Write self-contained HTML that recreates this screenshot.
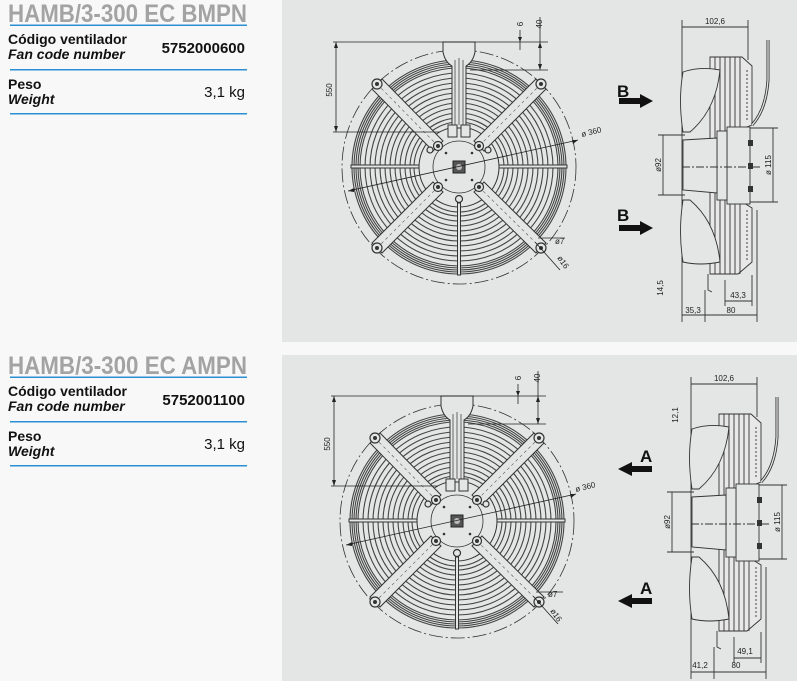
<!DOCTYPE html>
<html><head><meta charset="utf-8"><style>
html,body{margin:0;padding:0;background:#f8f8f8;}
svg{display:block;font-family:"Liberation Sans",sans-serif;}
</style></head><body>
<svg width="797" height="681" viewBox="0 0 797 681" xmlns="http://www.w3.org/2000/svg">
<defs>
<g id="front">
  <circle cx="459" cy="167" r="117" fill="none" stroke="#333" stroke-width="0.8" stroke-dasharray="14,3,2,3"/>
  <g fill="none" stroke="#444" stroke-width="1.1">
    <circle cx="459" cy="167" r="107"/><circle cx="459" cy="167" r="105"/><circle cx="459" cy="167" r="103"/>
    <circle cx="459" cy="167" r="101"/><circle cx="459" cy="167" r="99"/>
    <circle cx="459" cy="167" r="94"/><circle cx="459" cy="167" r="89"/><circle cx="459" cy="167" r="84"/>
    <circle cx="459" cy="167" r="79"/><circle cx="459" cy="167" r="74"/><circle cx="459" cy="167" r="69"/>
    <circle cx="459" cy="167" r="64"/><circle cx="459" cy="167" r="59"/><circle cx="459" cy="167" r="54"/>
    <circle cx="459" cy="167" r="49"/><circle cx="459" cy="167" r="45"/>
  </g>
  <circle cx="459" cy="167" r="40" fill="#e4e5e5" stroke="#333" stroke-width="1"/>
  <circle cx="459" cy="167" r="26" fill="none" stroke="#333" stroke-width="0.8"/>
  <rect x="453" y="161" width="12" height="12" fill="#555" stroke="#222"/>
  <circle cx="459" cy="167" r="3" fill="#bbb"/>
  <g fill="#333"><circle cx="446" cy="153" r="1.3"/><circle cx="472" cy="153" r="1.3"/><circle cx="446" cy="180" r="1.3"/><circle cx="472" cy="180" r="1.3"/></g>
  <g stroke="#333" stroke-width="1" fill="#e4e5e5">
    <polygon points="372,89 382,79 443,141 433,151"/>
    <polygon points="536,79 546,89 484,151 474,141"/>
    <polygon points="372,243 382,253 443,192 433,182"/>
    <polygon points="546,243 536,253 474,192 484,182"/>
  </g>
  <g stroke="#555" stroke-width="0.6" stroke-dasharray="3,3">
    <line x1="377" y1="84" x2="438" y2="146"/><line x1="541" y1="84" x2="479" y2="146"/>
    <line x1="377" y1="248" x2="438" y2="187"/><line x1="541" y1="248" x2="479" y2="187"/>
  </g>
  <g fill="#e4e5e5" stroke="#333" stroke-width="1.2">
    <circle cx="377" cy="84" r="5"/><circle cx="541" cy="84" r="5"/><circle cx="377" cy="248" r="5"/><circle cx="541" cy="248" r="5"/>
    <circle cx="438" cy="146" r="4.5"/><circle cx="479" cy="146" r="4.5"/><circle cx="438" cy="187" r="4.5"/><circle cx="479" cy="187" r="4.5"/>
    <circle cx="430" cy="150" r="3"/><circle cx="488" cy="150" r="3"/><circle cx="459" cy="199" r="3.5"/>
  </g>
  <g fill="#333"><circle cx="377" cy="84" r="2"/><circle cx="541" cy="84" r="2"/><circle cx="377" cy="248" r="2"/><circle cx="541" cy="248" r="2"/>
  <circle cx="438" cy="146" r="2"/><circle cx="479" cy="146" r="2"/><circle cx="438" cy="187" r="2"/><circle cx="479" cy="187" r="2"/></g>
  <g stroke="#333" stroke-width="1" fill="#e4e5e5">
    <rect x="351" y="165" width="68" height="3"/><rect x="499" y="165" width="68" height="3"/>
    <rect x="457.5" y="203" width="3" height="72"/>
  </g>
  <g fill="#e4e5e5" stroke="#333" stroke-width="1">
    <path d="M443,42 L443,52 Q445,62 452,66 L452,128 L466,128 L466,66 Q473,62 475,52 L475,42 Z"/>
    <rect x="448" y="125" width="9" height="12"/><rect x="461" y="125" width="9" height="12"/>
  </g>
  <g stroke="#333" stroke-width="0.7"><line x1="455" y1="60" x2="455" y2="125"/><line x1="459" y1="58" x2="459" y2="125"/><line x1="463" y1="60" x2="463" y2="125"/></g>
  <g stroke="#222" stroke-width="0.8" fill="none">
    <line x1="333" y1="42" x2="548" y2="42"/><line x1="333" y1="132" x2="440" y2="132"/>
    <line x1="336" y1="42" x2="336" y2="132"/>
    <line x1="520" y1="30" x2="520" y2="50"/><line x1="540" y1="17" x2="540" y2="70"/>
    <line x1="470" y1="70" x2="548" y2="70"/>
    <line x1="348" y1="191" x2="578" y2="140"/>
    <line x1="538" y1="238" x2="565" y2="238"/><line x1="535" y1="242" x2="560" y2="270"/>
  </g>
  <g fill="#222">
    <polygon points="336,42 334,48 338,48"/><polygon points="336,132 334,126 338,126"/>
    <polygon points="520,42 518,37 522,37"/><polygon points="540,70 538,64 542,64"/><polygon points="540,42 538,48 542,48"/>
    <polygon points="348,191 354,188 354,192"/><polygon points="578,140 572,140 573,144"/>
  </g>
</g>
<g id="side">
  <g fill="none" stroke="#333" stroke-width="0.9">
    <line x1="682" y1="20" x2="682" y2="322"/><line x1="748" y1="20" x2="748" y2="60"/>
    <line x1="682" y1="27" x2="748" y2="27"/>
    <polygon points="710,57 742,57 752,66 752,125 744,128 744,203 752,208 752,262 738,274 710,274" fill="#e8e8e8"/>
    <line x1="715" y1="57" x2="715" y2="274"/><line x1="720" y1="57" x2="720" y2="274"/><line x1="725" y1="57" x2="725" y2="274"/>
    <line x1="730" y1="57" x2="730" y2="128"/><line x1="735" y1="57" x2="735" y2="128"/><line x1="740" y1="57" x2="740" y2="128"/>
    <line x1="730" y1="203" x2="730" y2="274"/><line x1="735" y1="203" x2="735" y2="274"/><line x1="740" y1="203" x2="740" y2="274"/>
    <line x1="747" y1="70" x2="747" y2="122" stroke-dasharray="2,2"/><line x1="747" y1="210" x2="747" y2="260" stroke-dasharray="2,2"/>
    <rect x="727" y="127" width="23" height="77" fill="#e4e5e5"/>
    <rect x="717" y="131" width="10" height="69" fill="#e4e5e5"/>
    <path d="M683,72 Q700,66 720,70 Q716,110 690,132 L683,132 Q678,100 683,72 Z" fill="#e4e5e5"/>
    <path d="M683,262 Q700,266 720,262 Q716,222 690,200 L683,200 Q678,232 683,262 Z" fill="#e4e5e5"/>
    <path d="M683,140 L717,138 L717,193 L683,190 Z" fill="#e4e5e5"/>
    <path d="M768,40 L768,80 Q766,110 752,125" stroke-width="3"/>
    <path d="M768,40 L768,80 Q766,110 752,125" stroke="#e4e5e5" stroke-width="1.3"/>
    <path d="M708,274 L708,290 L712,292"/>
    <line x1="682" y1="167" x2="760" y2="167" stroke-dasharray="8,2,2,2"/>
    <line x1="663" y1="135" x2="663" y2="195"/><line x1="658" y1="135" x2="685" y2="135"/><line x1="658" y1="195" x2="685" y2="195"/>
    <line x1="773" y1="128" x2="773" y2="202"/><line x1="750" y1="128" x2="778" y2="128"/><line x1="750" y1="202" x2="778" y2="202"/>
    <line x1="682" y1="315" x2="757" y2="315"/><line x1="705" y1="290" x2="705" y2="322"/><line x1="757" y1="210" x2="757" y2="322"/>
    <line x1="725" y1="301" x2="752" y2="301"/><line x1="725" y1="280" x2="725" y2="306"/><line x1="752" y1="275" x2="752" y2="306"/>
  </g>
  <rect x="748" y="140" width="5" height="6" fill="#333"/><rect x="748" y="163" width="5" height="6" fill="#333"/><rect x="748" y="186" width="5" height="6" fill="#333"/>
</g>
</defs>

<rect x="282" y="0" width="515" height="342" fill="#e4e5e5"/>
<rect x="282" y="355" width="515" height="326" fill="#e4e5e5"/>

<text x="8" y="22" font-size="25" font-weight="bold" fill="#a3a3a3" textLength="239" lengthAdjust="spacingAndGlyphs">HAMB/3-300 EC BMPN</text>
<rect x="10" y="24.5" width="237" height="1.5" fill="#2b8fd3"/>
<text x="8" y="44" font-size="14" font-weight="bold" fill="#111">Código ventilador</text>
<text x="8" y="59" font-size="14" font-weight="bold" font-style="italic" fill="#111">Fan code number</text>
<text x="245" y="53" font-size="15" font-weight="bold" fill="#111" text-anchor="end">5752000600</text>
<rect x="10" y="69" width="237" height="1.5" fill="#2b8fd3"/>
<text x="8" y="89" font-size="14" font-weight="bold" fill="#111">Peso</text>
<text x="8" y="104" font-size="14" font-weight="bold" font-style="italic" fill="#111">Weight</text>
<text x="245" y="97" font-size="15" fill="#111" text-anchor="end">3,1 kg</text>
<rect x="10" y="113" width="237" height="1.5" fill="#2b8fd3"/>

<text x="8" y="374" font-size="25" font-weight="bold" fill="#a3a3a3" textLength="239" lengthAdjust="spacingAndGlyphs">HAMB/3-300 EC AMPN</text>
<rect x="10" y="376.5" width="237" height="1.5" fill="#2b8fd3"/>
<text x="8" y="396" font-size="14" font-weight="bold" fill="#111">Código ventilador</text>
<text x="8" y="411" font-size="14" font-weight="bold" font-style="italic" fill="#111">Fan code number</text>
<text x="245" y="405" font-size="15" font-weight="bold" fill="#111" text-anchor="end">5752001100</text>
<rect x="10" y="421" width="237" height="1.5" fill="#2b8fd3"/>
<text x="8" y="441" font-size="14" font-weight="bold" fill="#111">Peso</text>
<text x="8" y="456" font-size="14" font-weight="bold" font-style="italic" fill="#111">Weight</text>
<text x="245" y="449" font-size="15" fill="#111" text-anchor="end">3,1 kg</text>
<rect x="10" y="465" width="237" height="1.5" fill="#2b8fd3"/>

<use href="#front"/>
<use href="#front" transform="translate(-2,354)"/>
<use href="#side"/>
<use href="#side" transform="translate(9,357)"/>

<g font-size="8" fill="#222">
  <text transform="translate(332,90) rotate(-90)" text-anchor="middle">550</text>
  <text transform="translate(523,24) rotate(-90)" text-anchor="middle">6</text>
  <text transform="translate(542,24) rotate(-90)" text-anchor="middle">40</text>
  <text transform="translate(582,137) rotate(-14)">ø 360</text>
  <text x="555" y="244">ø7</text>
  <text transform="translate(557,258) rotate(55)">ø16</text>
  <text x="715" y="24" text-anchor="middle">102,6</text>
  <text transform="translate(661,165) rotate(-90)" text-anchor="middle">ø92</text>
  <text transform="translate(771,165) rotate(-90)" text-anchor="middle">ø 115</text>
  <text transform="translate(663,288) rotate(-90)" text-anchor="middle">14,5</text>
  <text x="738" y="298" text-anchor="middle">43,3</text>
  <text x="693" y="313" text-anchor="middle">35,3</text>
  <text x="731" y="313" text-anchor="middle">80</text>

  <text transform="translate(330,444) rotate(-90)" text-anchor="middle">550</text>
  <text transform="translate(521,378) rotate(-90)" text-anchor="middle">6</text>
  <text transform="translate(540,378) rotate(-90)" text-anchor="middle">40</text>
  <text transform="translate(576,492) rotate(-14)">ø 360</text>
  <text x="548" y="597">ø7</text>
  <text transform="translate(550,611) rotate(55)">ø16</text>
  <text x="724" y="381" text-anchor="middle">102,6</text>
  <text transform="translate(670,522) rotate(-90)" text-anchor="middle">ø92</text>
  <text transform="translate(780,522) rotate(-90)" text-anchor="middle">ø 115</text>
  <text transform="translate(678,415) rotate(-90)" text-anchor="middle">12,1</text>
  <text x="745" y="654" text-anchor="middle">49,1</text>
  <text x="700" y="668" text-anchor="middle">41,2</text>
  <text x="736" y="668" text-anchor="middle">80</text>
</g>

<g fill="#111">
  <text x="617" y="97" font-size="17" font-weight="bold">B</text>
  <polygon points="619,98 640,98 640,94 653,101 640,108 640,104 619,104"/>
  <text x="617" y="221" font-size="17" font-weight="bold">B</text>
  <polygon points="619,225 640,225 640,221 653,228 640,235 640,231 619,231"/>
  <text x="640" y="462" font-size="17" font-weight="bold">A</text>
  <polygon points="652,466 632,466 632,462 618,469 632,476 632,472 652,472"/>
  <text x="640" y="594" font-size="17" font-weight="bold">A</text>
  <polygon points="652,598 632,598 632,594 618,601 632,608 632,604 652,604"/>
</g>
</svg>
</body></html>
